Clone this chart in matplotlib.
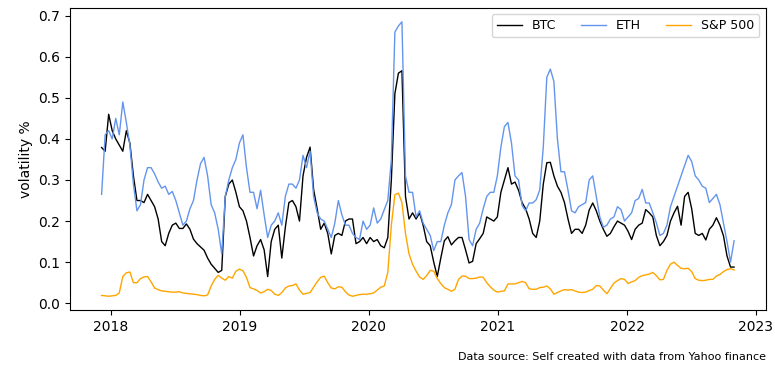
import pandas as pd
import matplotlib.pyplot as plt
import matplotlib.dates as mdates
plt.switch_backend("agg")

# 30-day rolling volatility, one value every 10 days
dates = pd.date_range("2017-12-06", periods=180, freq="10D")

btc_vol = [
    0.379, 0.37, 0.46, 0.42, 0.40, 0.385, 0.37, 0.42, 0.39, 0.31,
    0.25, 0.25, 0.245, 0.265, 0.25, 0.235, 0.205, 0.15, 0.14, 0.17,
    0.19, 0.195, 0.182, 0.182, 0.193, 0.18, 0.156, 0.145, 0.137, 0.129,
    0.11, 0.095, 0.085, 0.075, 0.08, 0.26, 0.29, 0.30, 0.27, 0.235,
    0.225, 0.20, 0.16, 0.115, 0.14, 0.155, 0.13, 0.065, 0.15, 0.18,
    0.19, 0.11, 0.185, 0.245, 0.25, 0.235, 0.20, 0.31, 0.355, 0.38,
    0.277, 0.23, 0.18, 0.195, 0.17, 0.12, 0.165, 0.17, 0.165, 0.20,
    0.205, 0.205, 0.145, 0.15, 0.16, 0.145, 0.16, 0.15, 0.155, 0.14,
    0.135, 0.16, 0.30, 0.51, 0.56, 0.566, 0.26, 0.205, 0.22, 0.205,
    0.22, 0.19, 0.15, 0.14, 0.10, 0.065, 0.11, 0.152, 0.162, 0.142,
    0.152, 0.16, 0.16, 0.13, 0.098, 0.102, 0.145, 0.157, 0.17, 0.21,
    0.205, 0.20, 0.21, 0.27, 0.30, 0.33, 0.29, 0.295, 0.275, 0.245,
    0.23, 0.205, 0.17, 0.16, 0.20, 0.29, 0.342, 0.343, 0.31, 0.285,
    0.27, 0.245, 0.205, 0.17, 0.18, 0.18, 0.17, 0.19, 0.227, 0.244,
    0.225, 0.20, 0.18, 0.163, 0.17, 0.186, 0.20, 0.195, 0.19, 0.175,
    0.155, 0.18, 0.19, 0.195, 0.228, 0.22, 0.21, 0.165, 0.14, 0.15,
    0.165, 0.20, 0.22, 0.236, 0.19, 0.26, 0.27, 0.23, 0.17, 0.165,
    0.17, 0.154, 0.18, 0.19, 0.208, 0.19, 0.164, 0.115, 0.088, 0.088,
]

eth_vol = [
    0.265, 0.41, 0.42, 0.40, 0.45, 0.41, 0.49, 0.44, 0.385, 0.29,
    0.225, 0.24, 0.30, 0.33, 0.33, 0.315, 0.295, 0.28, 0.285, 0.265,
    0.272, 0.25, 0.22, 0.19, 0.20, 0.23, 0.25, 0.30, 0.34, 0.355,
    0.31, 0.24, 0.22, 0.18, 0.12, 0.26, 0.30, 0.33, 0.35, 0.39,
    0.41, 0.33, 0.27, 0.27, 0.23, 0.275, 0.215, 0.16, 0.19, 0.20,
    0.22, 0.19, 0.26, 0.29, 0.29, 0.28, 0.30, 0.36, 0.33, 0.37,
    0.26, 0.22, 0.205, 0.20, 0.18, 0.16, 0.195, 0.25, 0.215, 0.19,
    0.19, 0.17, 0.16, 0.155, 0.20, 0.18, 0.19, 0.232, 0.195, 0.205,
    0.228, 0.25, 0.35, 0.66, 0.675, 0.685, 0.31, 0.27, 0.27, 0.21,
    0.225, 0.195, 0.18, 0.165, 0.128, 0.15, 0.15, 0.19, 0.22, 0.24,
    0.30, 0.31, 0.318, 0.26, 0.155, 0.14, 0.18, 0.195, 0.23, 0.26,
    0.27, 0.27, 0.31, 0.38, 0.43, 0.44, 0.39, 0.31, 0.30, 0.238,
    0.225, 0.244, 0.244, 0.252, 0.276, 0.38, 0.55, 0.57, 0.54, 0.40,
    0.32, 0.32, 0.275, 0.225, 0.22, 0.235, 0.24, 0.245, 0.30, 0.31,
    0.26, 0.21, 0.185, 0.19, 0.205, 0.21, 0.235, 0.228, 0.20, 0.21,
    0.22, 0.25, 0.255, 0.277, 0.244, 0.244, 0.22, 0.196, 0.165, 0.17,
    0.19, 0.235, 0.26, 0.285, 0.31, 0.335, 0.36, 0.345, 0.31, 0.30,
    0.285, 0.28, 0.245, 0.255, 0.265, 0.24, 0.195, 0.15, 0.10, 0.152,
]

spx_vol = [
    0.019, 0.018, 0.017, 0.018, 0.019, 0.025, 0.065, 0.074, 0.076, 0.05,
    0.05, 0.06, 0.064, 0.065, 0.052, 0.037, 0.033, 0.03, 0.029, 0.028,
    0.027, 0.027, 0.028, 0.025, 0.024, 0.023, 0.022, 0.021, 0.019, 0.018,
    0.02, 0.042, 0.058, 0.068, 0.061, 0.056, 0.065, 0.061, 0.078, 0.083,
    0.079, 0.063, 0.038, 0.035, 0.031, 0.025, 0.028, 0.034, 0.031, 0.022,
    0.019, 0.026, 0.037, 0.042, 0.043, 0.047, 0.032, 0.022, 0.024, 0.026,
    0.039, 0.052, 0.063, 0.066, 0.05, 0.037, 0.035, 0.040, 0.039, 0.028,
    0.02, 0.017, 0.019, 0.021, 0.022, 0.022, 0.023, 0.025, 0.032, 0.039,
    0.042, 0.075, 0.19, 0.264, 0.268, 0.245, 0.17, 0.12, 0.095, 0.078,
    0.064, 0.058, 0.067, 0.08, 0.078, 0.06, 0.048, 0.038, 0.034, 0.029,
    0.034, 0.058, 0.066, 0.066, 0.06, 0.06, 0.061, 0.064, 0.063, 0.05,
    0.04, 0.032, 0.027, 0.029, 0.03, 0.047, 0.047, 0.047, 0.05, 0.053,
    0.05, 0.035, 0.034, 0.034, 0.038, 0.039, 0.042, 0.035, 0.022, 0.026,
    0.03, 0.033, 0.032, 0.033, 0.03, 0.027, 0.026, 0.027, 0.031, 0.034,
    0.043, 0.042, 0.032, 0.023, 0.036, 0.049, 0.055, 0.06, 0.058, 0.048,
    0.052, 0.055, 0.063, 0.067, 0.069, 0.071, 0.075, 0.067, 0.057, 0.058,
    0.08, 0.095, 0.1, 0.092, 0.085, 0.084, 0.085, 0.077, 0.06, 0.056,
    0.055, 0.056, 0.058, 0.058, 0.066, 0.07, 0.077, 0.082, 0.084, 0.081,
]

fig = plt.figure(figsize=(7.75, 3.69), dpi=100)
ax = fig.add_axes([0.0903, 0.160, 0.8977, 0.818])

ax.plot(dates, btc_vol, color="black", linewidth=1, label="BTC")
ax.plot(dates, eth_vol, color="cornflowerblue", linewidth=1, label="ETH")
ax.plot(dates, spx_vol, color="orange", linewidth=1, label="S&P 500")

ax.xaxis.set_major_locator(mdates.YearLocator())
ax.xaxis.set_major_formatter(mdates.DateFormatter("%Y"))
ax.set_ylabel("volatility %")
ax.legend(loc="upper right", ncol=3, fontsize=9)

fig.text(0.988, 0.02, "Data source: Self created with data from Yahoo finance",
         ha="right", va="bottom", fontsize=8)

plt.savefig("out.png")
